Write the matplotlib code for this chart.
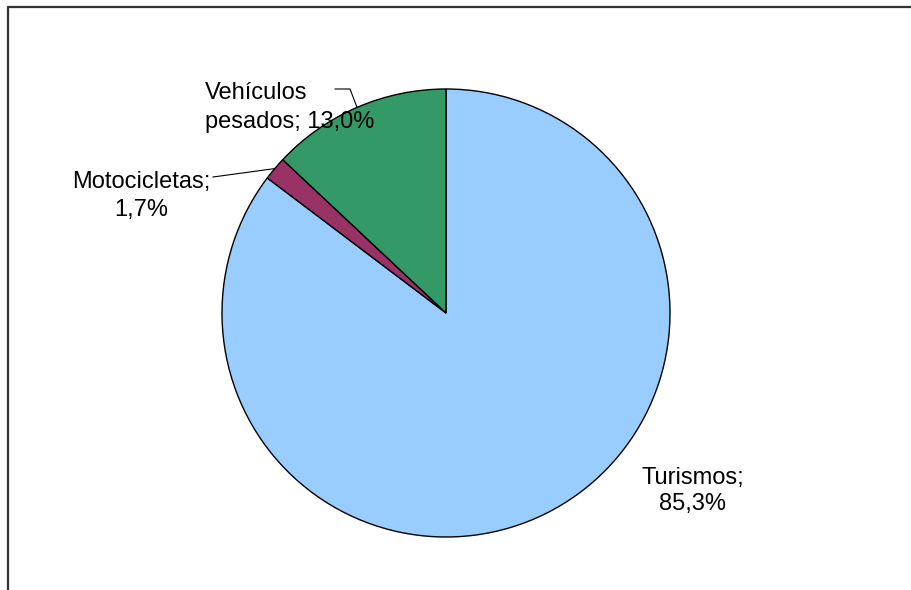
import numpy as np
import matplotlib
matplotlib.use("Agg")
import matplotlib.pyplot as plt

## data
labels = ["Turismos", "Motocicletas", "Vehículos\npesados"]
shares = [85.3, 1.7, 13.0]
colors = ["#99CCFF", "#993366", "#339966"]

W, H = 911, 590
fig = plt.figure(figsize=(W/100, H/100), dpi=100)
ax = fig.add_axes([0, 0, 1, 1])
ax.set_xlim(0, W)
ax.set_ylim(0, H)
ax.set_aspect("equal")
ax.axis("off")

cx, cy, R = 446, H - 313, 224
wedges, _ = ax.pie(shares, colors=colors, startangle=90, counterclock=False,
                   center=(cx, cy), radius=R,
                   wedgeprops=dict(edgecolor="black", linewidth=1.0))
ax.set_xlim(0, W)
ax.set_ylim(0, H)

def fmt(v):
    return ("%.1f%%" % v).replace(".", ",")

fs = 17
font = "Liberation Sans"

# Turismos label (no leader)
ax.text(693, H - 491, "Turismos;\n" + fmt(shares[0]), ha="center", va="center",
        fontsize=fs, family=font, linespacing=1.28)

# Motocicletas label + leader
ax.text(141, H - 196, "Motocicletas;\n" + fmt(shares[1]), ha="center", va="center",
        fontsize=fs, family=font, linespacing=1.32)
w = wedges[1]
mid = np.deg2rad((w.theta1 + w.theta2) / 2)
ex, ey = cx + R*np.cos(mid), cy + R*np.sin(mid)
ax.plot([213, ex], [H - 177, ey], color="black", lw=0.8)

# Vehiculos pesados label + leader
ax.text(205, H - 107.5, "Vehículos\npesados; " + fmt(shares[2]), ha="left", va="center",
        multialignment="left", fontsize=fs, family=font, linespacing=1.36)
w = wedges[2]
mid = np.deg2rad((w.theta1 + w.theta2) / 2)
ex, ey = cx + R*np.cos(mid), cy + R*np.sin(mid)
ax.plot([335, 350, ex], [H - 89, H - 89, ey], color="black", lw=0.8)

# chart frame (only top and left edges visible)
fx = 7.5 / W
fy = 1 - 6.5 / H
fig.add_artist(plt.Line2D([fx, fx, 1], [0, fy, fy], transform=fig.transFigure,
                          color="#333333", lw=1.6))

fig.savefig("out.png", dpi=100)
